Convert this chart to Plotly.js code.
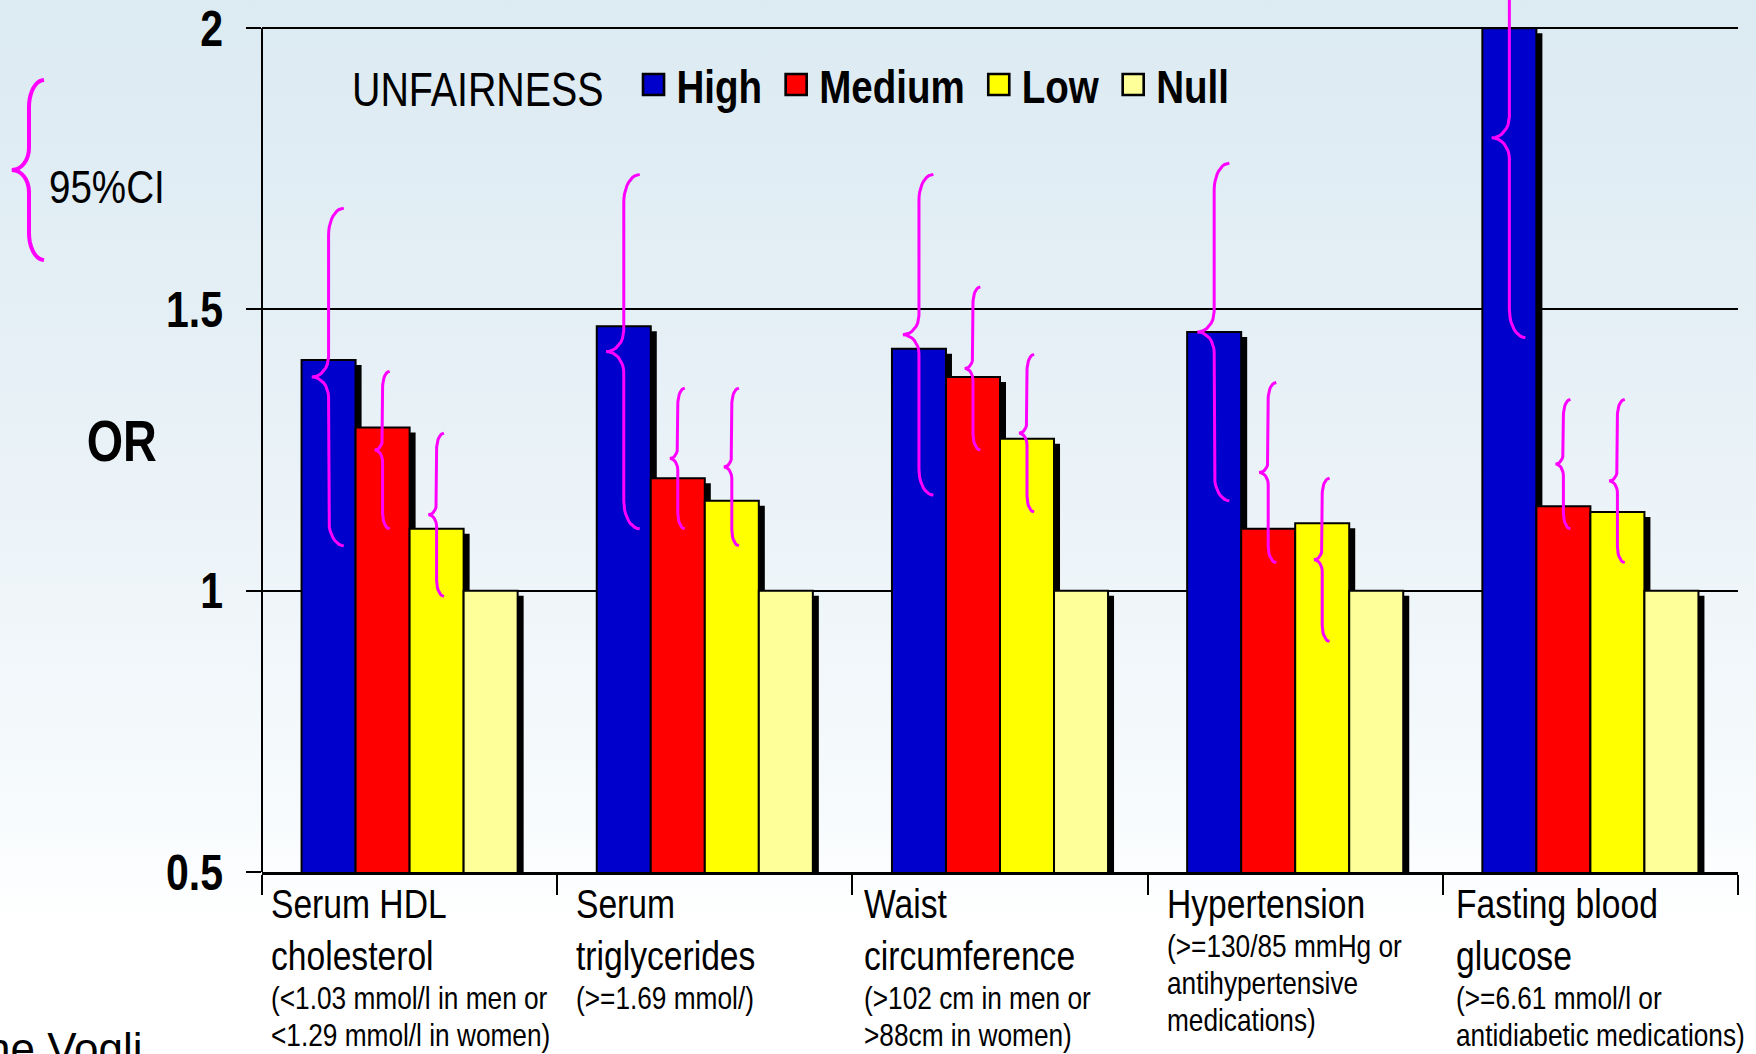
<!DOCTYPE html>
<html>
<head>
<meta charset="utf-8">
<script src="https://cdn.plot.ly/plotly-3.0.1.min.js"></script>
<style>
  html, body { margin: 0; padding: 0; }
  body { width: 1756px; height: 1054px; overflow: hidden;
         background: linear-gradient(180deg, #DCEAF2 0%, #E6F0F6 35%, #F6FAFC 75%, #FFFFFF 88%, #FFFFFF 100%); }
  #chart { width: 1756px; height: 1054px; }
</style>
</head>
<body>
<div id="chart"></div>
<script>
// ---------------- data ----------------
const categoryMain = [
  ['Serum HDL', 'cholesterol'],
  ['Serum', 'triglycerides'],
  ['Waist', 'circumference'],
  ['Hypertension'],
  ['Fasting blood', 'glucose']
];
const categoryNote = [
  ['(<1.03 mmol/l in men or', '<1.29 mmol/l in women)'],
  ['(>=1.69 mmol/)'],
  ['(>102 cm in men or', '>88cm in women)'],
  ['(>=130/85 mmHg or', 'antihypertensive', 'medications)'],
  ['(>=6.61 mmol/l or', 'antidiabetic medications)']
];
const seriesNames = ['High', 'Medium', 'Low', 'Null'];
const orHigh   = [1.41, 1.47, 1.43, 1.46, 2.00];
const orMedium = [1.29, 1.20, 1.38, 1.11, 1.15];
const orLow    = [1.11, 1.16, 1.27, 1.12, 1.14];
const orNull   = [1.00, 1.00, 1.00, 1.00, 1.00];
const ciLowHigh   = [1.08, 1.11, 1.17, 1.16, 1.45];
const ciUpHigh    = [1.68, 1.74, 1.74, 1.76, 2.16];
const ciLowMedium = [1.11, 1.11, 1.25, 1.05, 1.11];
const ciUpMedium  = [1.39, 1.36, 1.54, 1.37, 1.34];
const ciLowLow    = [0.99, 1.08, 1.14, 0.91, 1.05];
const ciUpLow     = [1.28, 1.36, 1.42, 1.20, 1.34];
const yTickVals = [0.5, 1, 1.5, 2];
const yTickText = ['0.5', '1', '1.5', '2'];
const legendTitle = 'UNFAIRNESS';
const yTitle = 'OR';
const ciKeyLabel = '95%CI';
const footerText = 'ne Vogli';

// ---------------- styles / geometry ----------------
const W = 1756, H = 1054;
const M = { l: 262, r: 18, t: 0, b: 182 };
const plotW = W - M.l - M.r;
const plotH = H - M.t - M.b;
const X_RANGE = [-0.5, categoryMain.length - 0.5];
const Y_RANGE = [0.5, 2.05];
const xPx = plotW / (X_RANGE[1] - X_RANGE[0]);
const yPx = plotH / (Y_RANGE[1] - Y_RANGE[0]);
const BARGAP = 0.268;
const barW = (1 - BARGAP) / seriesNames.length;
const colors = ['#0000CC', '#FF0000', '#FFFF00', '#FFFF99'];
const MAGENTA = '#FF00FF';
const NARROW = '"Liberation Sans Narrow", "Arial Narrow", "Liberation Sans", Arial, sans-serif';
const NARROW_FACTOR = 0.82;
const SHADOW_DX = 6, SHADOW_DY = 5;
const LABEL_XSHIFT = [7, 17, 10, 17, 11];

const xs = categoryMain.map((_, i) => i);
const orSeries = [orHigh, orMedium, orLow, orNull];
const ciSeries = [[ciLowHigh, ciUpHigh], [ciLowMedium, ciUpMedium], [ciLowLow, ciUpLow]];

function arc(cx, cy, rx, ry, a0, a1, n) {
  const pts = [];
  for (let k = 0; k <= n; k++) {
    const a = (a0 + (a1 - a0) * k / n) * Math.PI / 180;
    pts.push([cx + rx * Math.cos(a), cy + ry * Math.sin(a)]);
  }
  return pts;
}
function brace(x0, lo, hi, sx, sy, d) {
  const mid = (lo + hi) / 2;
  const rx = d.rx * sx, ry = d.ry * sy, crx = d.crx * sx, cry = d.cry * sy;
  let pts = [];
  pts = pts.concat(arc(x0 + rx, hi - ry, rx, ry, 90, 180, 10));
  pts = pts.concat(arc(x0 - crx, mid + cry, crx, cry, 0, -90, 8));
  pts = pts.concat(arc(x0 - crx, mid - cry, crx, cry, 90, 0, 8));
  pts = pts.concat(arc(x0 + rx, lo + ry, rx, ry, 180, 270, 10));
  return pts;
}
function clamp(v, a, b) { return Math.max(a, Math.min(b, v)); }

const traces = [];
orSeries.forEach((vals, j) => {
  traces.push({
    type: 'bar', x: xs, y: vals, xaxis: 'x2', yaxis: 'y2',
    marker: { color: '#000000', line: { width: 0 } },
    showlegend: false, hoverinfo: 'skip'
  });
});
orSeries.forEach((vals, j) => {
  traces.push({
    type: 'bar', x: xs, y: vals, xaxis: 'x3', yaxis: 'y3', name: seriesNames[j],
    marker: { color: colors[j], line: { color: '#000000', width: 2 } },
    showlegend: false, hoverinfo: 'skip'
  });
});
ciSeries.forEach(([lo, hi], j) => {
  const bx = [], by = [];
  xs.forEach((x, i) => {
    const x0 = x + (j - (seriesNames.length - 1) / 2) * barW;
    const lenPx = (hi[i] - lo[i]) * yPx;
    const rx = clamp(0.045 * lenPx, 7, 16), ry = clamp(0.08 * lenPx, 16, 28);
    const pts = brace(x0, lo[i], hi[i], 1 / xPx, 1 / yPx, { rx: rx, ry: ry, crx: rx * 1.1, cry: ry * 0.75 });
    pts.forEach(p => { bx.push(p[0]); by.push(p[1]); });
    bx.push(null); by.push(null);
  });
  traces.push({
    type: 'scatter', mode: 'lines', x: bx, y: by, xaxis: 'x3', yaxis: 'y3',
    line: { color: MAGENTA, width: 3 }, connectgaps: false,
    showlegend: false, hoverinfo: 'skip'
  });
});
seriesNames.forEach((n, j) => {
  traces.push({
    type: 'scatter', mode: 'markers', x: [null], y: [null], name: n,
    marker: { symbol: 'square', size: 16, color: colors[j], line: { color: '#000000', width: 2 } },
    showlegend: true, hoverinfo: 'skip'
  });
});

// ---------------- annotations ----------------
function esc(s) { return s.replace(/&/g, '&amp;').replace(/</g, '&lt;').replace(/>/g, '&gt;'); }
function paperY(px) { return (M.t + plotH - px) / plotH; }
function paperX(px) { return (px - M.l) / plotW; }
const annotations = [];
const MAIN_SIZE = 41, NOTE_SIZE = 32;
categoryMain.forEach((lines, i) => {
  let base = 918;
  lines.forEach((t, k) => {
    base = 918 + 52 * k;
    annotations.push({
      xref: 'x', yref: 'paper', x: i - 0.5, xanchor: 'left', align: 'left', xshift: LABEL_XSHIFT[i],
      y: paperY(base - 0.3465 * MAIN_SIZE), yanchor: 'middle', showarrow: false,
      text: esc(t), font: { family: NARROW, size: MAIN_SIZE, color: '#000' }
    });
  });
  const nb = base + 39;
  categoryNote[i].forEach((t, k) => {
    annotations.push({
      xref: 'x', yref: 'paper', x: i - 0.5, xanchor: 'left', align: 'left', xshift: LABEL_XSHIFT[i],
      y: paperY(nb + 37 * k - 0.3465 * NOTE_SIZE), yanchor: 'middle', showarrow: false,
      text: esc(t), font: { family: NARROW, size: NOTE_SIZE, color: '#000' }
    });
  });
});
annotations.push({
  xref: 'paper', yref: 'paper', x: paperX(122), y: paperY(441), xanchor: 'center', align: 'center', yanchor: 'middle',
  showarrow: false, text: yTitle, font: { family: NARROW, size: 57, weight: 'bold', color: '#000' }
});
annotations.push({
  xref: 'paper', yref: 'paper', x: paperX(47), y: paperY(187), xanchor: 'left', align: 'left', yanchor: 'middle',
  showarrow: false, text: ciKeyLabel, font: { family: NARROW, size: 47, color: '#000' }
});
annotations.push({
  xref: 'paper', yref: 'paper', x: paperX(145), y: paperY(1064 - 0.3465 * 44), xanchor: 'right', align: 'right', yanchor: 'middle',
  showarrow: false, text: footerText, font: { family: '"Liberation Sans", Arial, sans-serif', size: 44, color: '#000' }
});

// ---------------- shapes ----------------
const keyPts = brace(paperX(29), paperY(260), paperY(80), 1 / plotW, 1 / plotH, { rx: 15, ry: 27, crx: 17, cry: 22 });
const shapes = [
  { type: 'path', xref: 'paper', yref: 'paper',
    path: 'M' + keyPts.map(p => p[0].toFixed(5) + ',' + p[1].toFixed(5)).join('L'),
    line: { color: MAGENTA, width: 4 } },
  { type: 'line', xref: 'paper', yref: 'y', x0: 0, x1: 0, y0: Y_RANGE[0], y1: yTickVals[yTickVals.length - 1],
    line: { color: '#000000', width: 2 } }
];

const hidden = { visible: false, fixedrange: true };
const layout = {
  width: W, height: H, margin: M,
  paper_bgcolor: 'rgba(0,0,0,0)', plot_bgcolor: 'rgba(0,0,0,0)',
  barmode: 'group', bargap: BARGAP, bargroupgap: 0,
  font: { family: NARROW, color: '#000' },
  xaxis: {
    range: X_RANGE, tickmode: 'array',
    tickvals: xs.concat([xs.length]).map(v => v - 0.5), showticklabels: false,
    ticks: 'outside', ticklen: 20, tickwidth: 2, tickcolor: '#000',
    showline: true, linecolor: '#000', linewidth: 2.5, showgrid: false, zeroline: false, fixedrange: true
  },
  yaxis: {
    range: Y_RANGE, tickmode: 'array', tickvals: yTickVals, ticktext: yTickText,
    ticks: 'outside', ticklen: 15, tickwidth: 2, tickcolor: '#000', ticklabelstandoff: 13,
    tickfont: { family: NARROW, size: 50, weight: 'bold', color: '#000' },
    showgrid: true, gridcolor: '#000', gridwidth: 2, showline: false, zeroline: false, fixedrange: true
  },
  xaxis2: Object.assign({ overlaying: 'x', range: [X_RANGE[0] - SHADOW_DX / xPx, X_RANGE[1] - SHADOW_DX / xPx] }, hidden),
  yaxis2: Object.assign({ overlaying: 'y', range: [Y_RANGE[0] + SHADOW_DY / yPx, Y_RANGE[1] + SHADOW_DY / yPx] }, hidden),
  xaxis3: Object.assign({ overlaying: 'x', range: X_RANGE }, hidden),
  yaxis3: Object.assign({ overlaying: 'y', range: Y_RANGE }, hidden),
  showlegend: true,
  legend: {
    orientation: 'h', x: paperX(350), xanchor: 'left', y: paperY(81), yanchor: 'middle',
    bgcolor: 'rgba(0,0,0,0)', borderwidth: 0,
    font: { family: NARROW, size: 47, weight: 'bold', color: '#000' },
    title: { text: legendTitle, side: 'left', font: { family: NARROW, size: 48, weight: 'normal', color: '#000' } },
    itemsizing: 'trace'
  },
  annotations: annotations,
  shapes: shapes
};

// condense the Arial-metric text to an Arial-Narrow-like width
function narrowTexts(gd) {
  gd.querySelectorAll('svg.main-svg text').forEach(t => {
    const fam = t.style.fontFamily || '';
    if (fam.indexOf('Narrow') < 0) return;
    const lines = t.querySelectorAll('tspan.line');
    const targets = lines.length ? Array.from(lines) : [t];
    targets.forEach(el => {
      const L = el.getComputedTextLength();
      if (L > 0) {
        el.setAttribute('textLength', (L * NARROW_FACTOR).toFixed(2));
        el.setAttribute('lengthAdjust', 'spacingAndGlyphs');
      }
    });
  });
}
function fixLegend(gd) {
  const lg = gd.querySelector('g.legend');
  if (!lg) return;
  const title = lg.querySelector('text.legendtitletext');
  let desired = title.getBoundingClientRect().right + 50;
  lg.querySelectorAll('g.traces').forEach(item => {
    const p = item.querySelector('path.scatterpts');
    if (!p) return;
    const r0 = p.getBoundingClientRect();
    const s = 21 / Math.max(r0.width, 1);
    p.setAttribute('transform', (p.getAttribute('transform') || '') + ' scale(' + s.toFixed(3) + ')');
    const r = p.getBoundingClientRect();
    const delta = desired - (r.left + r.right) / 2;
    item.setAttribute('transform', (item.getAttribute('transform') || '') + ' translate(' + delta.toFixed(2) + ',4)');
    const txt = item.querySelector('text.legendtext');
    txt.setAttribute('x', (parseFloat(txt.getAttribute('x') || '0') + 3).toFixed(1));
    desired = txt.getBoundingClientRect().right + 34;
  });
}

Plotly.newPlot('chart', traces, layout, { staticPlot: true, displayModeBar: false }).then(gd => {
  narrowTexts(gd);
  fixLegend(gd);
});
</script>
</body>
</html>
